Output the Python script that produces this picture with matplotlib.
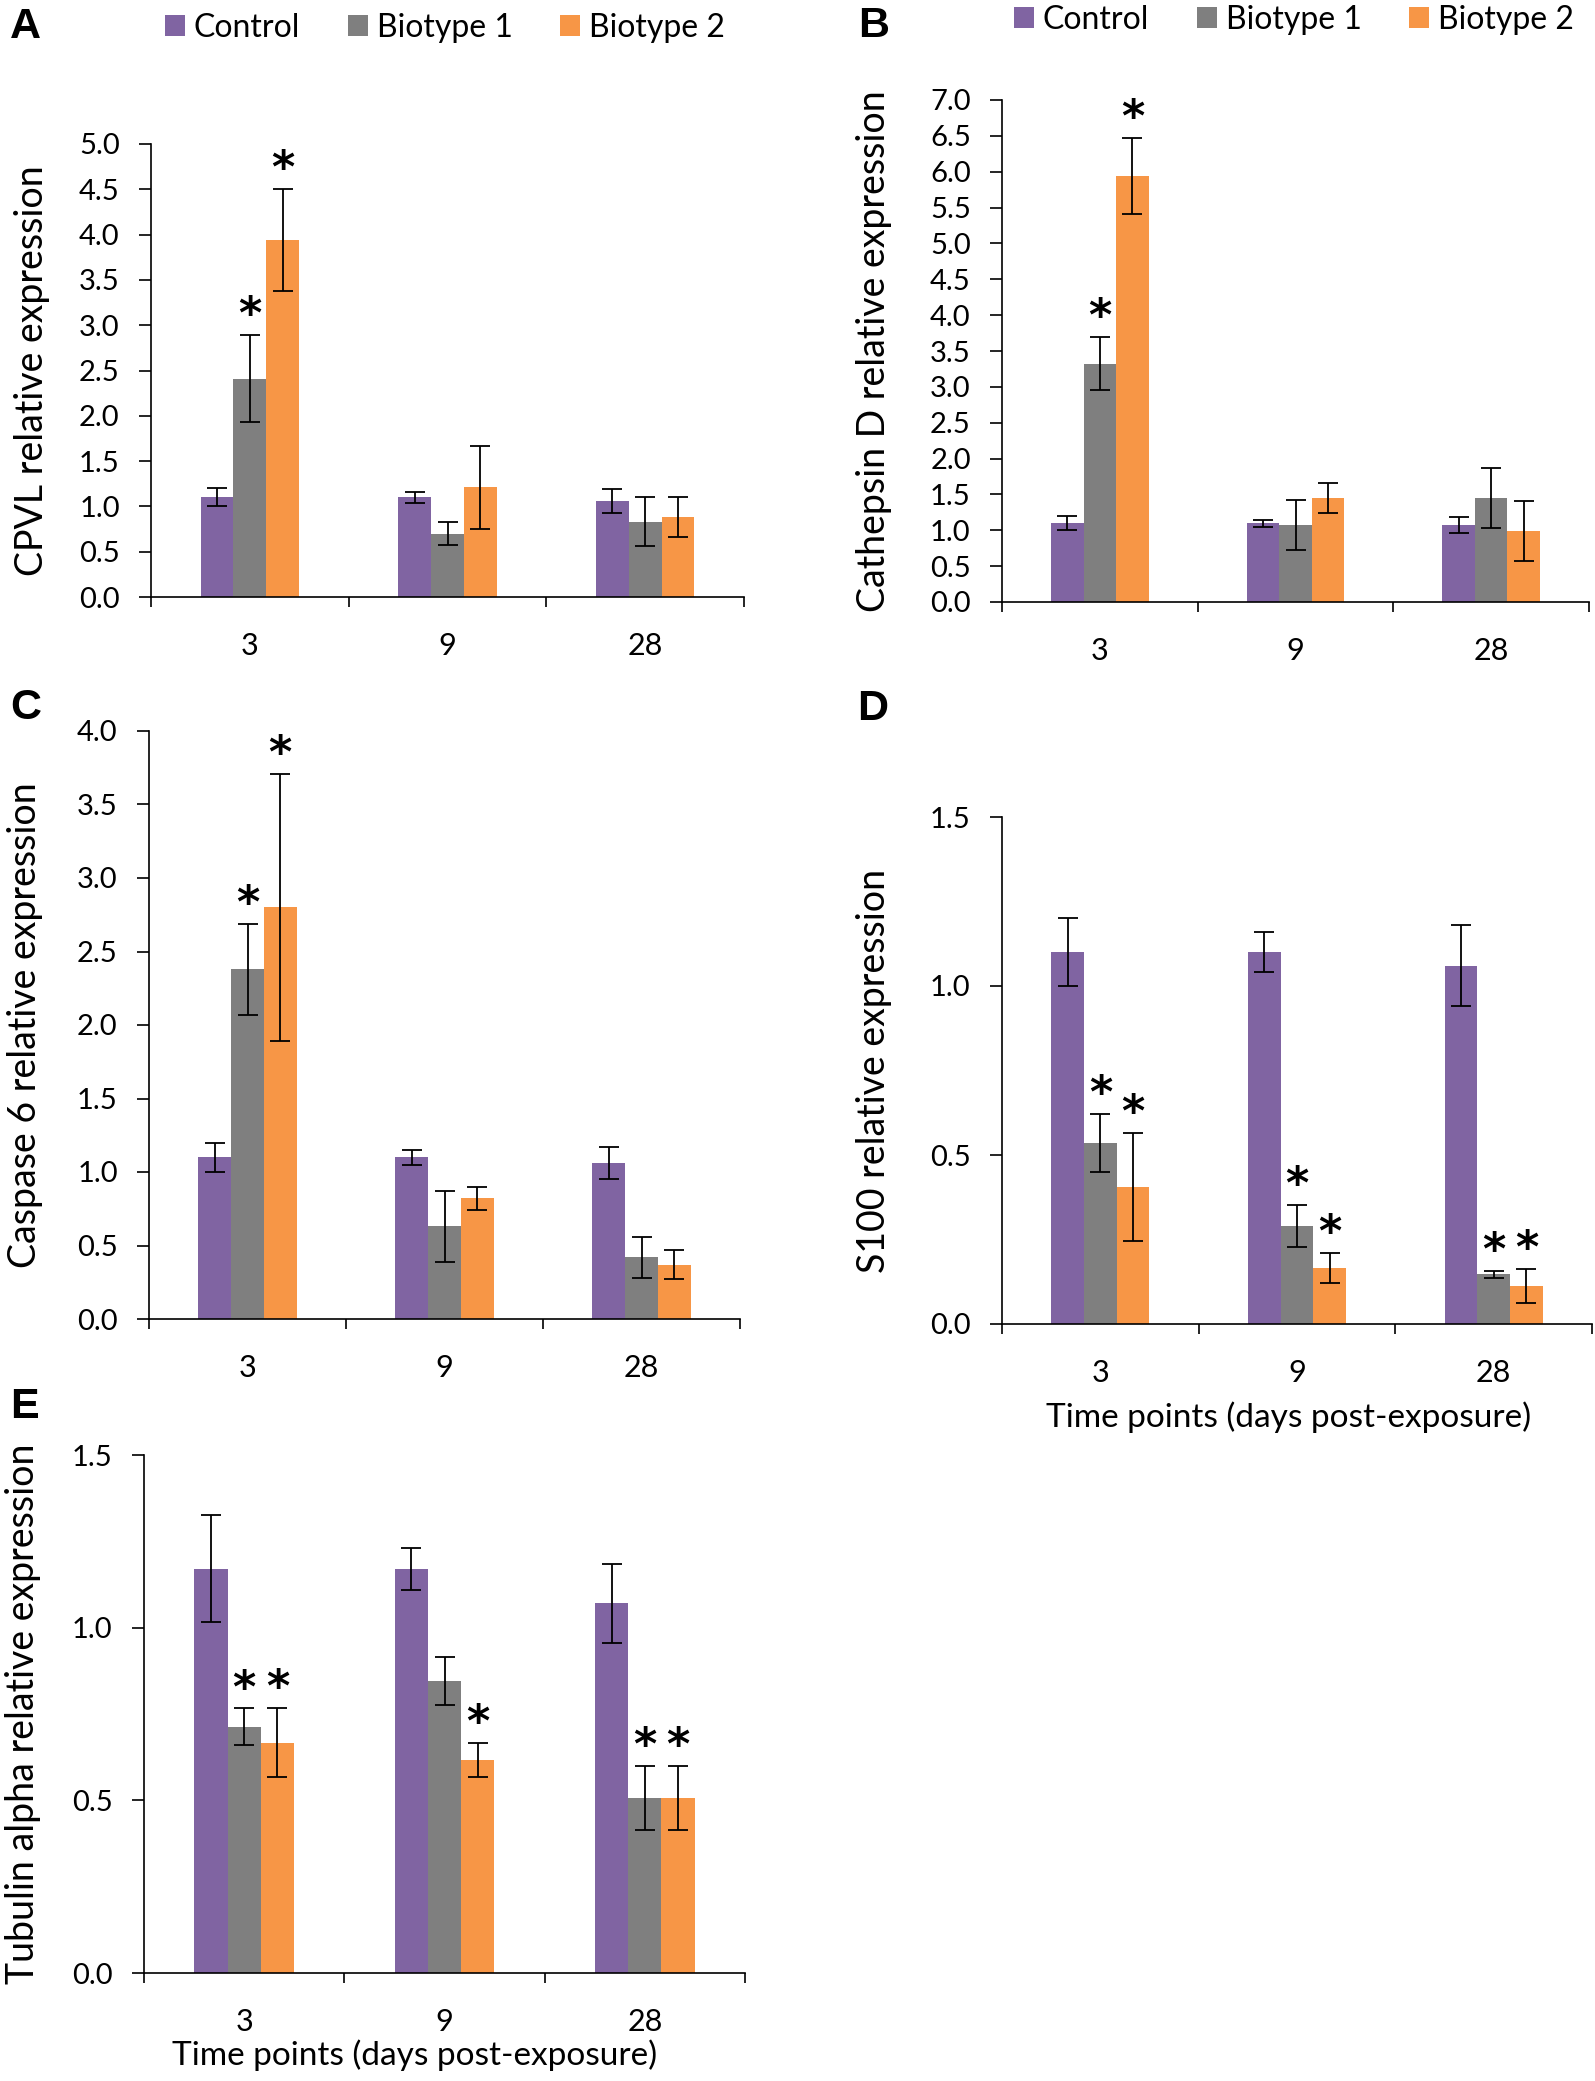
import numpy as np
import matplotlib
matplotlib.use('Agg')
import matplotlib.pyplot as plt
from matplotlib.ticker import FormatStrFormatter

plt.rcParams['font.family'] = ['Lato', 'DejaVu Sans']

# dados (media, erro, asterisco de significancia)
days = ['3', '9', '28']
groups = ['Control', 'Biotype 1', 'Biotype 2']
colors = ['#8064A2', '#7F7F7F', '#F79646']

# A - CPVL
cpvl_mean = [[1.10, 1.10, 1.06], [2.41, 0.70, 0.83], [3.94, 1.21, 0.88]]
cpvl_err = [[0.10, 0.06, 0.13], [0.48, 0.13, 0.27], [0.56, 0.46, 0.22]]
cpvl_star = [[0, 0, 0], [1, 0, 0], [1, 0, 0]]

# B - Cathepsin D
catd_mean = [[1.10, 1.10, 1.07], [3.32, 1.07, 1.45], [5.94, 1.45, 0.99]]
catd_err = [[0.10, 0.05, 0.11], [0.37, 0.35, 0.42], [0.53, 0.21, 0.42]]
catd_star = [[0, 0, 0], [1, 0, 0], [1, 0, 0]]

# C - Caspase 6
casp_mean = [[1.10, 1.10, 1.06], [2.38, 0.63, 0.42], [2.80, 0.82, 0.37]]
casp_err = [[0.10, 0.05, 0.11], [0.31, 0.24, 0.14], [0.91, 0.08, 0.10]]
casp_star = [[0, 0, 0], [1, 0, 0], [1, 0, 0]]

# D - S100
s100_mean = [[1.10, 1.10, 1.06], [0.535, 0.29, 0.147], [0.405, 0.165, 0.113]]
s100_err = [[0.10, 0.06, 0.12], [0.085, 0.063, 0.011], [0.16, 0.044, 0.05]]
s100_star = [[0, 0, 0], [1, 1, 1], [1, 1, 1]]

# E - Tubulin alpha
tuba_mean = [[1.17, 1.17, 1.07], [0.713, 0.846, 0.506], [0.667, 0.617, 0.506]]
tuba_err = [[0.155, 0.06, 0.115], [0.053, 0.07, 0.093], [0.10, 0.048, 0.093]]
tuba_star = [[0, 0, 0], [1, 0, 1], [1, 1, 1]]

W, H = 1595, 2081
bar_w = 0.166


def caixa(l, t, r, b):
    # converte pixels (origem no topo) para fracao da figura
    return [l / W, 1 - b / H, (r - l) / W, (b - t) / H]


def painel(ax, medias, erros, estrelas, ymax, yticks, ylabel, ylab_x):
    x = np.arange(len(days)) + 0.5
    for j in range(len(groups)):
        xs = x + (j - 1) * bar_w
        ax.bar(xs, medias[j], bar_w, color=colors[j], label=groups[j],
               yerr=erros[j], error_kw=dict(ecolor='black', elinewidth=1.3,
                                            capsize=7, capthick=1.3))
        for k in range(len(days)):
            if estrelas[j][k]:
                ax.annotate('*', xy=(xs[k], medias[j][k] + erros[j][k]),
                            xytext=(0, 5), textcoords='offset points',
                            ha='center', va='baseline', fontsize=32,
                            fontweight='bold', family='DejaVu Sans')
    ax.set_xlim(0, 3)
    ax.set_ylim(0, ymax)
    ax.set_yticks(yticks)
    ax.yaxis.set_major_formatter(FormatStrFormatter('%.1f'))
    ax.set_xticks([0, 1, 2, 3])
    ax.set_xticklabels([])
    ax.set_xticks(x, minor=True)
    ax.set_xticklabels(days, minor=True)
    ax.tick_params(axis='x', which='minor', length=0, pad=25, labelsize=22)
    ax.tick_params(axis='x', which='major', length=7, width=1.2)
    ax.tick_params(axis='y', length=8.5, width=1.2, pad=14, labelsize=21)
    for s in ['top', 'right']:
        ax.spines[s].set_visible(False)
    for s in ['left', 'bottom']:
        ax.spines[s].set_linewidth(1.2)
    ax.set_ylabel(ylabel, fontsize=27)
    ax.yaxis.set_label_coords(ylab_x, 0.5)


fig = plt.figure(figsize=(W / 100, H / 100), dpi=100)

axA = fig.add_axes(caixa(151, 144, 744, 597))
painel(axA, cpvl_mean, cpvl_err, cpvl_star, 5.0,
       [0, 0.5, 1, 1.5, 2, 2.5, 3, 3.5, 4, 4.5, 5], 'CPVL relative expression', -0.170)

axB = fig.add_axes(caixa(1002, 100, 1589, 602))
painel(axB, catd_mean, catd_err, catd_star, 7.0,
       [0, 0.5, 1, 1.5, 2, 2.5, 3, 3.5, 4, 4.5, 5, 5.5, 6, 6.5, 7],
       'Cathepsin D relative expression', -0.187)

axC = fig.add_axes(caixa(149, 731, 740, 1319))
painel(axC, casp_mean, casp_err, casp_star, 4.0,
       [0, 0.5, 1, 1.5, 2, 2.5, 3, 3.5, 4], 'Caspase 6 relative expression', -0.180)

axD = fig.add_axes(caixa(1002, 817, 1592, 1324))
painel(axD, s100_mean, s100_err, s100_star, 1.5,
       [0, 0.5, 1, 1.5], 'S100 relative expression', -0.186)
axD.set_xlabel('Time points (days post-exposure)', fontsize=24)
axD.xaxis.set_label_coords(0.485, -0.152)

axE = fig.add_axes(caixa(144, 1455, 745, 1973))
painel(axE, tuba_mean, tuba_err, tuba_star, 1.5,
       [0, 0.5, 1, 1.5], 'Tubulin alpha relative expression', -0.171)
axE.set_xlabel('Time points (days post-exposure)', fontsize=24)
axE.xaxis.set_label_coords(0.451, -0.128)

# legendas no topo dos paineis A e B
for ax, cx, cy in [(axA, 445, 28), (axB, 1294, 20)]:
    h, l = ax.get_legend_handles_labels()
    ax.legend(h, l, ncol=3, frameon=False, fontsize=23, loc='center',
              bbox_to_anchor=(cx / W, 1 - cy / H), bbox_transform=fig.transFigure,
              handlelength=0.62, handleheight=0.62, handletextpad=0.28,
              columnspacing=1.5, borderpad=0, borderaxespad=0)

# letras dos paineis
for letra, px, py in [('A', 10, 38), ('B', 858, 37), ('C', 10, 719),
                      ('D', 857, 720), ('E', 10, 1418)]:
    fig.text(px / W, 1 - py / H, letra, fontsize=31, fontweight='bold',
             family='Liberation Sans', ha='left', va='baseline')

fig.savefig('out.png', dpi=100)
